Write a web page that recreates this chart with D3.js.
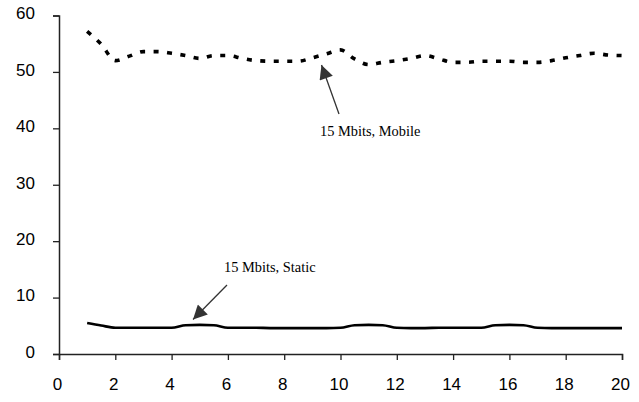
<!DOCTYPE html>
<html>
<head>
<meta charset="utf-8">
<script src="https://cdn.jsdelivr.net/npm/d3@7"></script>
<style>
  body { margin: 0; background: #fff; }
  svg text { fill: #000; }
</style>
</head>
<body>
<div id="chart"></div>
<script>
// x positions (read at half-unit steps)
var xVals = [1,1.5,2,2.5,3,3.5,4,4.5,5,5.5,6,6.5,7,7.5,8,8.5,9,9.5,10,10.5,
             11,11.5,12,12.5,13,13.5,14,14.5,15,15.5,16,16.5,17,17.5,18,18.5,19,19.5,20];
var mobileVals = [57.2,54.9,52.0,52.8,53.6,53.6,53.3,52.9,52.4,52.9,52.9,52.4,52.0,51.9,51.9,51.9,52.5,53.2,53.9,52.3,
                  51.3,51.7,52.0,52.4,52.9,52.3,51.7,51.7,51.9,51.9,51.9,51.7,51.7,52.0,52.5,52.9,53.3,53.0,52.9];
var staticVals = [5.5,5.05,4.65,4.65,4.65,4.65,4.65,5.1,5.15,5.1,4.65,4.65,4.65,4.6,4.6,4.6,4.6,4.6,4.65,5.1,
                  5.15,5.1,4.65,4.6,4.6,4.65,4.65,4.65,4.65,5.1,5.15,5.1,4.65,4.6,4.6,4.6,4.6,4.6,4.6];
var xTicks = [0,2,4,6,8,10,12,14,16,18,20];
var yTicks = [0,10,20,30,40,50,60];

var W = 639, H = 402;
var svg = d3.select('#chart').append('svg')
	.attr('width', W)
	.attr('height', H);

var x = d3.scaleLinear().domain([0, 20]).range([59, 622]);
var y = d3.scaleLinear().domain([0, 60]).range([354, 15.5]);

// axes
var xAxis = svg.append('g')
	.attr('transform', 'translate(0,' + y(0) + ')')
	.call(d3.axisBottom(x).tickValues(xTicks).tickSize(6).tickFormat(d3.format('d')));
var yAxis = svg.append('g')
	.attr('transform', 'translate(' + x(0) + ',0)')
	.call(d3.axisLeft(y).tickValues(yTicks).tickSize(6).tickFormat(d3.format('d')));

[xAxis, yAxis].forEach(function(a){
	a.select('.domain').attr('stroke', '#222').attr('stroke-width', 1.5);
	a.selectAll('.tick line').attr('stroke', '#222').attr('stroke-width', 1.3);
	a.selectAll('.tick text')
		.style('font-family', '"Liberation Sans", Arial, sans-serif')
		.style('font-size', '17px')
		.attr('fill', '#000');
});
xAxis.selectAll('.tick text').attr('y', 24).attr('dx', '-2px');
yAxis.selectAll('.tick text').attr('x', -24).attr('dy', '0.2em');

var pts = function(vals){ return xVals.map(function(d, i){ return [d, vals[i]]; }); };
var line = d3.line()
	.x(function(d){ return x(d[0]); })
	.y(function(d){ return y(d[1]); })
	.curve(d3.curveMonotoneX);

// mobile (dotted)
svg.append('path')
	.attr('d', line(pts(mobileVals)))
	.attr('fill', 'none')
	.attr('stroke', '#000')
	.attr('stroke-width', 3.6)
	.attr('stroke-dasharray', '5,8.5');

// static (solid)
svg.append('path')
	.attr('d', line(pts(staticVals)))
	.attr('fill', 'none')
	.attr('stroke', '#000')
	.attr('stroke-width', 2.7);

// arrow marker
svg.append('defs').append('marker')
	.attr('id', 'arr')
	.attr('viewBox', '0 0 10 10')
	.attr('refX', 10).attr('refY', 5)
	.attr('markerUnits', 'userSpaceOnUse')
	.attr('markerWidth', 16).attr('markerHeight', 14)
	.attr('orient', 'auto')
	.append('path')
	.attr('d', 'M0,0 L10,5 L0,10 Z')
	.attr('fill', '#333');

var notes = [
	{ text: '15 Mbits, Mobile', tx: 320, ty: 136, x1: 339, y1: 114, x2: 321.5, y2: 65 },
	{ text: '15 Mbits, Static', tx: 224, ty: 272, x1: 227, y1: 285, x2: 193, y2: 319.5 }
];
notes.forEach(function(n){
	svg.append('line')
		.attr('x1', n.x1).attr('y1', n.y1)
		.attr('x2', n.x2).attr('y2', n.y2)
		.attr('stroke', '#333')
		.attr('stroke-width', 1.3)
		.attr('marker-end', 'url(#arr)');
	svg.append('text')
		.attr('x', n.tx).attr('y', n.ty)
		.style('font-family', '"Liberation Serif", "Times New Roman", serif')
		.style('font-size', '14.4px')
		.text(n.text);
});
</script>
</body>
</html>
